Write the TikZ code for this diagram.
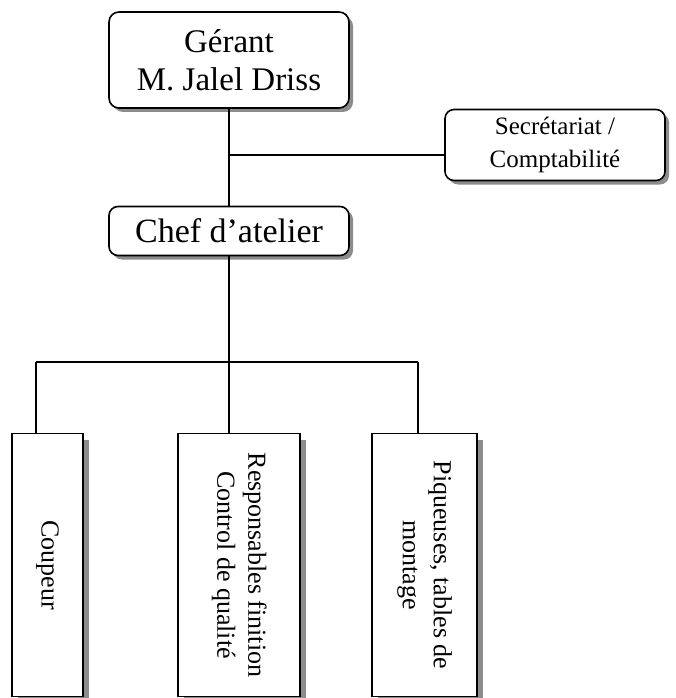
\documentclass[tikz,border=0pt]{standalone}
\usepackage{fontspec}
\setmainfont{Liberation Serif}
\usetikzlibrary{shadows}

\begin{document}
\begin{tikzpicture}[x=1pt, y=-1pt,
        boss/.style={draw, rectangle, rounded corners=10pt, line width=1.6pt, fill=white,
            align=center, drop shadow={shadow xshift=4pt, shadow yshift=-4pt, fill=black!90}},
        staff/.style={draw, rectangle, line width=1.6pt, fill=white, inner sep=0pt,
            minimum height=263pt, font=\fontsize{26}{31}\selectfont,
            drop shadow={shadow xshift=6pt, shadow yshift=-6pt, fill=black!90}},
        link/.style={line width=1.6pt}]
        \useasboundingbox (0,0) rectangle (676,698);

        % Gerant
        \node[boss, minimum width=240pt, minimum height=96pt, font=\fontsize{33}{38}\selectfont]
            (gerant) at (229,60) {Gérant\\M. Jalel Driss};

        % Secretariat
        \node[boss, rounded corners=9pt, minimum width=220pt, minimum height=71pt,
            font=\fontsize{25}{33}\selectfont]
            (secr) at (555,145) {Secrétariat /\\Comptabilité};

        % Chef d'atelier
        \node[boss, rounded corners=9pt, minimum width=240pt, minimum height=49pt,
            font=\fontsize{34}{38}\selectfont]
            (chef) at (229,231) {Chef d’atelier};
        \draw[link] (gerant.south) -- (chef.north);
        \coordinate (j) at (229,155);
        \draw[link] (j) -- (j -| secr.west);

        % Equipes
        \node[staff, minimum width=71pt] (coupeur) at (47.5,565)
            {\rotatebox{-90}{Coupeur}};
        \node[staff, minimum width=122pt] (resp) at (239,565)
            {\rotatebox{-90}{\begin{tabular}{@{}c@{}}Responsables finition\\Control de qualité\end{tabular}}};
        \node[staff, minimum width=105pt] (piq) at (424.5,565)
            {\rotatebox{-90}{\begin{tabular}{@{}c@{}}Piqueuses, tables de\\montage\end{tabular}}};

        \coordinate (b1) at (36,362);
        \coordinate (b3) at (418,362);
        \draw[link] (chef.south) -- (chef.south |- b1);
        \draw[link] (b1) -- (b3);
        \draw[link] (b1) -- (b1 |- coupeur.north);
        \draw[link] (chef.south |- b1) -- (chef.south |- resp.north);
        \draw[link] (b3) -- (b3 |- piq.north);
    \end{tikzpicture}
\end{document}
